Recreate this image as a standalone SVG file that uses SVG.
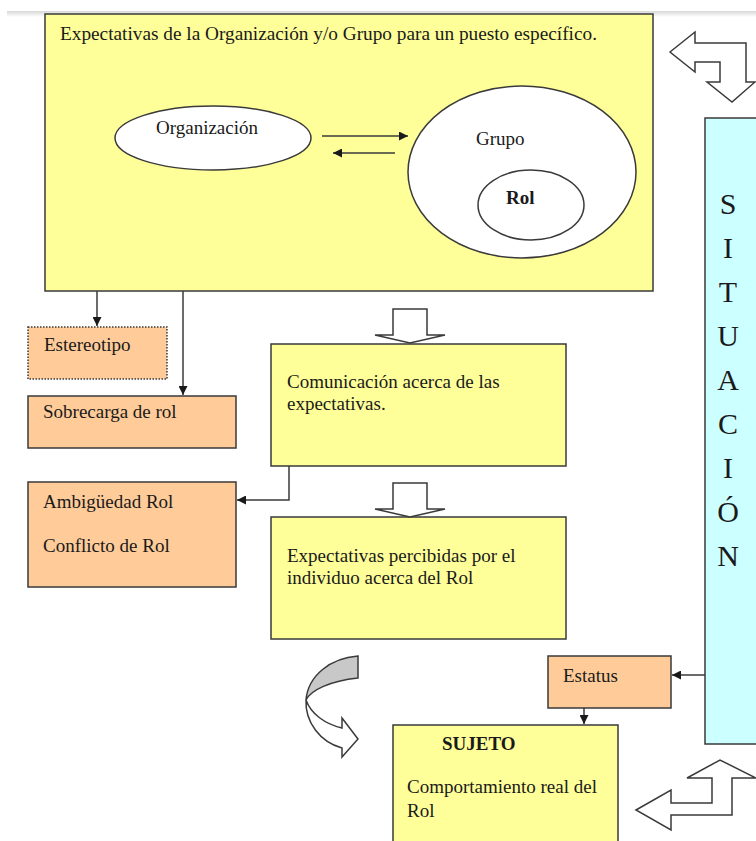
<svg xmlns="http://www.w3.org/2000/svg" width="756" height="841" viewBox="0 0 756 841">
<defs>
<style>
.box{stroke:#3a3a3a;stroke-width:1.5}
.y{fill:#FFFF99}
.o{fill:#FFCC99}
.c{fill:#CCFFFF}
.w{fill:#ffffff}
.t{font-family:"Liberation Serif","Times New Roman",serif;font-size:19px;fill:#1a1a1a}
.b{font-weight:bold}
.s{font-family:"Liberation Serif","Times New Roman",serif;font-size:30px;fill:#1a1a1a;text-anchor:middle}
.ln{fill:none;stroke:#3a3a3a;stroke-width:1.5}
.blk{fill:#ffffff;stroke:#3a3a3a;stroke-width:1.5;stroke-linejoin:miter}
</style>
<marker id="ah" viewBox="0 0 10 10" refX="10" refY="5" markerWidth="9" markerHeight="9" markerUnits="userSpaceOnUse" orient="auto">
<path d="M0,0 L10,5 L0,10 Z" fill="#1a1a1a"/>
</marker>
<linearGradient id="sh" x1="0" y1="0" x2="0" y2="1">
<stop offset="0" stop-color="#d8d8d8"/>
<stop offset="1" stop-color="#ffffff"/>
</linearGradient>
</defs>
<rect x="0" y="0" width="756" height="841" fill="#ffffff"/>
<rect x="7" y="11" width="749" height="6" fill="url(#sh)"/>

<g id="expectativas-org">
<rect class="box y" x="45" y="14" width="608" height="277"/>
<text class="t" x="60" y="40" textLength="537" lengthAdjust="spacingAndGlyphs">Expectativas de la Organización y/o Grupo para un puesto específico.</text>
</g>
<g id="organizacion">
<ellipse class="box w" cx="213" cy="138" rx="98" ry="32"/>
<text class="t" x="156" y="134">Organización</text>
</g>
<g id="grupo">
<ellipse class="box w" cx="522" cy="172" rx="114" ry="86"/>
<text class="t" x="476" y="145">Grupo</text>
</g>
<g id="rol">
<ellipse class="box w" cx="531" cy="205" rx="53" ry="35"/>
<text class="t b" x="506" y="204">Rol</text>
</g>

<g id="situacion">
<rect class="box c" x="705" y="118" width="60" height="626"/>
<text class="s" x="728" y="214">S</text>
<text class="s" x="728" y="258">I</text>
<text class="s" x="728" y="302">T</text>
<text class="s" x="728" y="346">U</text>
<text class="s" x="728" y="390">A</text>
<text class="s" x="728" y="434">C</text>
<text class="s" x="728" y="478">I</text>
<text class="s" x="728" y="522">Ó</text>
<text class="s" x="728" y="566">N</text>
</g>

<g id="estereotipo">
<rect x="28" y="327" width="139" height="52" class="o" stroke="#3a3a3a" stroke-width="1.5" stroke-dasharray="1.5 1.5"/>
<text class="t" x="44" y="351">Estereotipo</text>
</g>
<g id="sobrecarga">
<rect class="box o" x="28" y="396" width="208" height="52"/>
<text class="t" x="43" y="418">Sobrecarga de rol</text>
</g>
<g id="ambiguedad">
<rect class="box o" x="28" y="482" width="208" height="105"/>
<text class="t" x="43" y="508">Ambigüedad Rol</text>
<text class="t" x="43" y="552">Conflicto de Rol</text>
</g>
<g id="comunicacion">
<rect class="box y" x="271" y="344" width="295" height="122"/>
<text class="t" x="287" y="388">Comunicación acerca de las</text>
<text class="t" x="287" y="410">expectativas.</text>
</g>
<g id="percibidas">
<rect class="box y" x="271" y="517" width="295" height="122"/>
<text class="t" x="287" y="562">Expectativas percibidas por el</text>
<text class="t" x="287" y="584">individuo acerca del Rol</text>
</g>
<g id="estatus">
<rect class="box o" x="548" y="656" width="123" height="52"/>
<text class="t" x="563" y="682">Estatus</text>
</g>
<g id="sujeto">
<rect class="box y" x="393" y="725" width="225" height="130"/>
<text class="t b" x="442" y="750">SUJETO</text>
<text class="t" x="407" y="793">Comportamiento real del</text>
<text class="t" x="407" y="817">Rol</text>
</g>

<g id="connectors">
<line class="ln" x1="322" y1="136" x2="408" y2="136" marker-end="url(#ah)"/>
<line class="ln" x1="395" y1="153" x2="333" y2="153" marker-end="url(#ah)"/>
<line class="ln" x1="97" y1="291" x2="97" y2="326" marker-end="url(#ah)"/>
<line class="ln" x1="183" y1="291" x2="183" y2="395" marker-end="url(#ah)"/>
<polyline class="ln" points="289,466 289,500 237,500" marker-end="url(#ah)"/>
<line class="ln" x1="705" y1="675" x2="672" y2="675" marker-end="url(#ah)"/>
<line class="ln" x1="584" y1="708" x2="584" y2="724" marker-end="url(#ah)"/>
<polygon class="blk" points="393,309 427,309 427,335 445,335 410,343 375,335 393,335"/>
<polygon class="blk" points="393,483 427,483 427,509 445,509 410,517 375,509 393,509"/>
<polygon class="blk" points="670,52 695,32 695,43 746,43 746,82 755,82 732,102 707,82 720,82 720,62 695,62 695,72"/>
<polygon class="blk" points="636,810 671,790 671,803 712,803 712,778 687,778 720,760 756,778 732,778 732,815 671,815 671,830"/>
<path d="M358,656 C330,658 308,676 306,700 C311,690 330,681 358,678 Z" fill="#c8c8c8" stroke="#3a3a3a" stroke-width="1.5"/>
<path d="M306,700 C305,722 320,742 342,748 L342,757 L358,739 L342,718 L342,728 C325,724 311,714 306,700 Z" class="blk"/>
</g>
</svg>
